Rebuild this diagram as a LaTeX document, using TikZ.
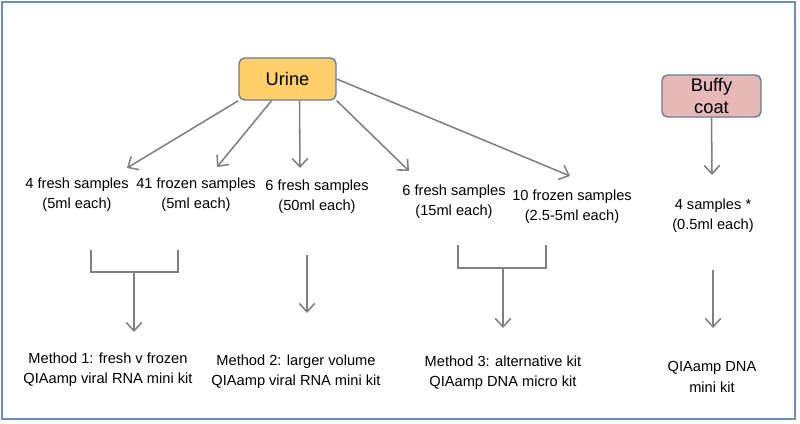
\documentclass[tikz,border=0pt]{standalone}
\usepackage{fontspec}
\setmainfont{Liberation Sans}
\usetikzlibrary{arrows.meta}
\definecolor{framecol}{HTML}{6C8EBF}
\definecolor{boxline}{HTML}{6A7D96}
\definecolor{urinecol}{HTML}{FFD06A}
\definecolor{buffycol}{HTML}{E6B9B8}
\definecolor{linecol}{HTML}{808080}
\begin{document}
\begin{tikzpicture}[x=0.025cm,y=-0.025cm,
    src/.style={draw=boxline,line width=1pt,rounded corners=4pt,minimum width=2.425cm,minimum height=1.05cm,align=center,inner sep=0pt,font={\fontsize{13}{15}\selectfont}},
    txt/.style={align=center,inner sep=0pt,font={\fontsize{10.4}{14.5}\selectfont}},
    arr/.style={draw=linecol,line width=1.1pt,-{Straight Barb[length=6pt,width=11pt]}},
    brk/.style={draw=linecol,line width=1.1pt}]
            \useasboundingbox (0,0) rectangle (800,423);
            \draw[framecol,line width=1pt] (2,2) rectangle (795,419);

            \node[src,fill=urinecol] (U) at (287.5,79) {Urine};
            \node[src,fill=buffycol,minimum width=2.475cm] (B) at (711.5,96) {Buffy\\coat};

            \node[txt] (s1) at (77,195) {4 fresh samples\\(5ml each)};
            \node[txt] (s2) at (196,195) {41 frozen samples\\(5ml each)};
            \node[txt] (s3) at (317,197) {6 fresh samples\\(50ml each)};
            \node[txt] (s4) at (454,202) {6 fresh samples\\(15ml each)};
            \node[txt] (s5) at (572,207) {10 frozen samples\\(2.5-5ml each)};
            \node[txt] (s6) at (713,216) {4 samples *\\(0.5ml each)};

            \node[txt] (m1) at (108,370) {Method 1: fresh v frozen\\QIAamp viral RNA mini kit};
            \node[txt] (m2) at (296,372) {Method 2: larger volume\\QIAamp viral RNA mini kit};
            \node[txt] (m3) at (503,373) {Method 3: alternative kit\\QIAamp DNA micro kit};
            \node[txt] (m4) at (712,377) {QIAamp DNA\\mini kit};

            % arrow tips above the sample texts
            \coordinate (t1) at (127,168); \coordinate (t2) at (217,167); \coordinate (t3) at (300,168);
            \coordinate (t4) at (409,171); \coordinate (t5) at (570,176); \coordinate (t6) at (712,175);
            % brackets
            \coordinate (b1l) at (91,250); \coordinate (b1r) at (178,250); \coordinate (b1m) at (134,272);
            \coordinate (b3l) at (458,245); \coordinate (b3r) at (546,245); \coordinate (b3m) at (503,268);
            \coordinate (c2) at (307,255); \coordinate (c4) at (713,270);
            % arrow tips above the methods
            \coordinate (e1) at (134,332); \coordinate (e2) at (307,313); \coordinate (e3) at (503,328); \coordinate (e4) at (713,328);

            \draw[arr] (U.south west) to (t1); \draw[arr] ([xshift=-0.4cm]U.south) to (t2); \draw[arr] ([xshift=0.3cm]U.south) to (t3);
            \draw[arr] (U.south east) to (t4); \draw[arr] (U.east) to (t5); \draw[arr] (B.south) to (t6);
            \draw[brk] (b1l) |- (b1m) -| (b1r); \draw[brk] (b3l) |- (b3m) -| (b3r);
            \draw[arr] (b1m) to (e1); \draw[arr] (c2) to (e2); \draw[arr] (b3m) to (e3); \draw[arr] (c4) to (e4);
        \end{tikzpicture}
\end{document}
